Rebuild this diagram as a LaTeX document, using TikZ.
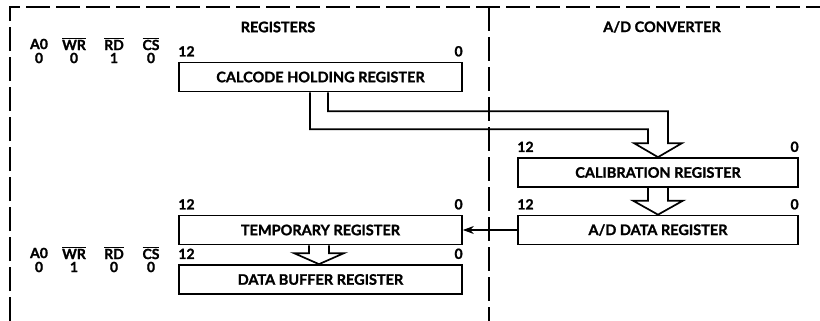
\documentclass[tikz,border=0pt]{standalone}
\usepackage{fontspec}
\setmainfont{Lato}[BoldFeatures={FakeBold=1.3}]
\usetikzlibrary{arrows.meta,calc}
\newcommand\myovl[1]{$\overline{\mbox{#1}}$}
\begin{document}
\begin{tikzpicture}[x=1pt,y=-1pt,
  reg/.style={draw,line width=1.7pt,minimum height=29pt,inner sep=0pt,font=\fontsize{14.5}{14.5}\selectfont\bfseries},
  lbl/.style={inner sep=0pt,font=\fontsize{14}{14}\selectfont\bfseries},
  ttl/.style={inner sep=0pt,font=\fontsize{14.5}{14.5}\selectfont\bfseries},
  frame/.style={line width=1.5pt,dash pattern=on 24pt off 6pt},
  hollow/.style={draw,line width=1.7pt,line join=miter}]
\useasboundingbox (0,0) rectangle (820,321);
% frame
\draw[frame] (10,321) -- (10,7) -- (820,7);
\draw[frame] (489,7) -- (489,321);
% titles
\node[ttl] (t1) at (278,27) {REGISTERS};
\node[ttl] (t2) at (662,27) {A/D CONVERTER};
% registers
\node[reg,minimum width=283pt] (calcode) at (320.5,77) {CALCODE HOLDING REGISTER};
\node[reg,minimum width=280pt] (calib) at (658,172.5) {CALIBRATION REGISTER};
\node[reg,minimum width=280pt] (adreg) at (658,230) {A/D DATA REGISTER};
\node[reg,minimum width=283pt] (temp) at (320.5,230) {TEMPORARY REGISTER};
\node[reg,minimum width=283pt] (dbuf) at (320.5,279.5) {DATA BUFFER REGISTER};
% bit labels
\foreach \r in {calcode,calib,adreg,temp,dbuf}{
  \node[lbl,anchor=south west] (\r-hi) at ($(\r.north west)+(0,-5)$) {12};
  \node[lbl,anchor=south east] (\r-lo) at ($(\r.north east)+(0,-5)$) {0};
}
% control signal labels
\node[lbl] (ua0) at (39,44) {A0};
\node[lbl] (uwr) at (74,44) {\myovl{WR}};
\node[lbl] (urd) at (114,44) {\myovl{RD}};
\node[lbl] (ucs) at (151,44) {\myovl{CS}};
\node[lbl] (ua0v) at (39,58) {0};
\node[lbl] (uwrv) at (74,58) {0};
\node[lbl] (urdv) at (114,58) {1};
\node[lbl] (ucsv) at (151,58) {0};
\node[lbl] (la0) at (39,253) {A0};
\node[lbl] (lwr) at (74,253) {\myovl{WR}};
\node[lbl] (lrd) at (114,253) {\myovl{RD}};
\node[lbl] (lcs) at (151,253) {\myovl{CS}};
\node[lbl] (la0v) at (39,267) {0};
\node[lbl] (lwrv) at (74,267) {1};
\node[lbl] (lrdv) at (114,267) {0};
\node[lbl] (lcsv) at (151,267) {0};
% hollow pipe from calcode to calibration
\draw[hollow] ($(calcode.south)+(-10.5,0)$) |- ($(calib.north)+(-10,-28)$)
  -- ($(calib.north)+(-10,-14)$) -- ($(calib.north)+(-24,-14)$) -- (calib.north)
  -- ($(calib.north)+(24,-14)$) -- ($(calib.north)+(10,-14)$)
  |- ($(calcode.south)+(7.5,19)$) -- ($(calcode.south)+(7.5,0)$);
% hollow arrow calibration -> A/D data
\draw[hollow] ($(calib.south)+(-10,0)$) -- ($(adreg.north)+(-10,-14)$) -- ($(adreg.north)+(-25,-14)$)
  -- (adreg.north) -- ($(adreg.north)+(25,-14)$) -- ($(adreg.north)+(10,-14)$) -- ($(calib.south)+(10,0)$);
% hollow arrow temporary -> data buffer
\coordinate (ts) at ($(temp.south)+(-1.5,0)$);
\coordinate (dn) at ($(dbuf.north)+(-1.5,0)$);
\draw[hollow] ($(ts)+(-10,0)$) -- ($(dn)+(-10,-11)$) -- ($(dn)+(-25,-11)$)
  -- (dn) -- ($(dn)+(25,-11)$) -- ($(dn)+(10,-11)$) -- ($(ts)+(10,0)$);
% A/D data -> temporary
\draw[line width=1.3pt,-{Stealth[length=11pt,width=8pt]}] (adreg.west) -- (temp.east);
\end{tikzpicture}
\end{document}
